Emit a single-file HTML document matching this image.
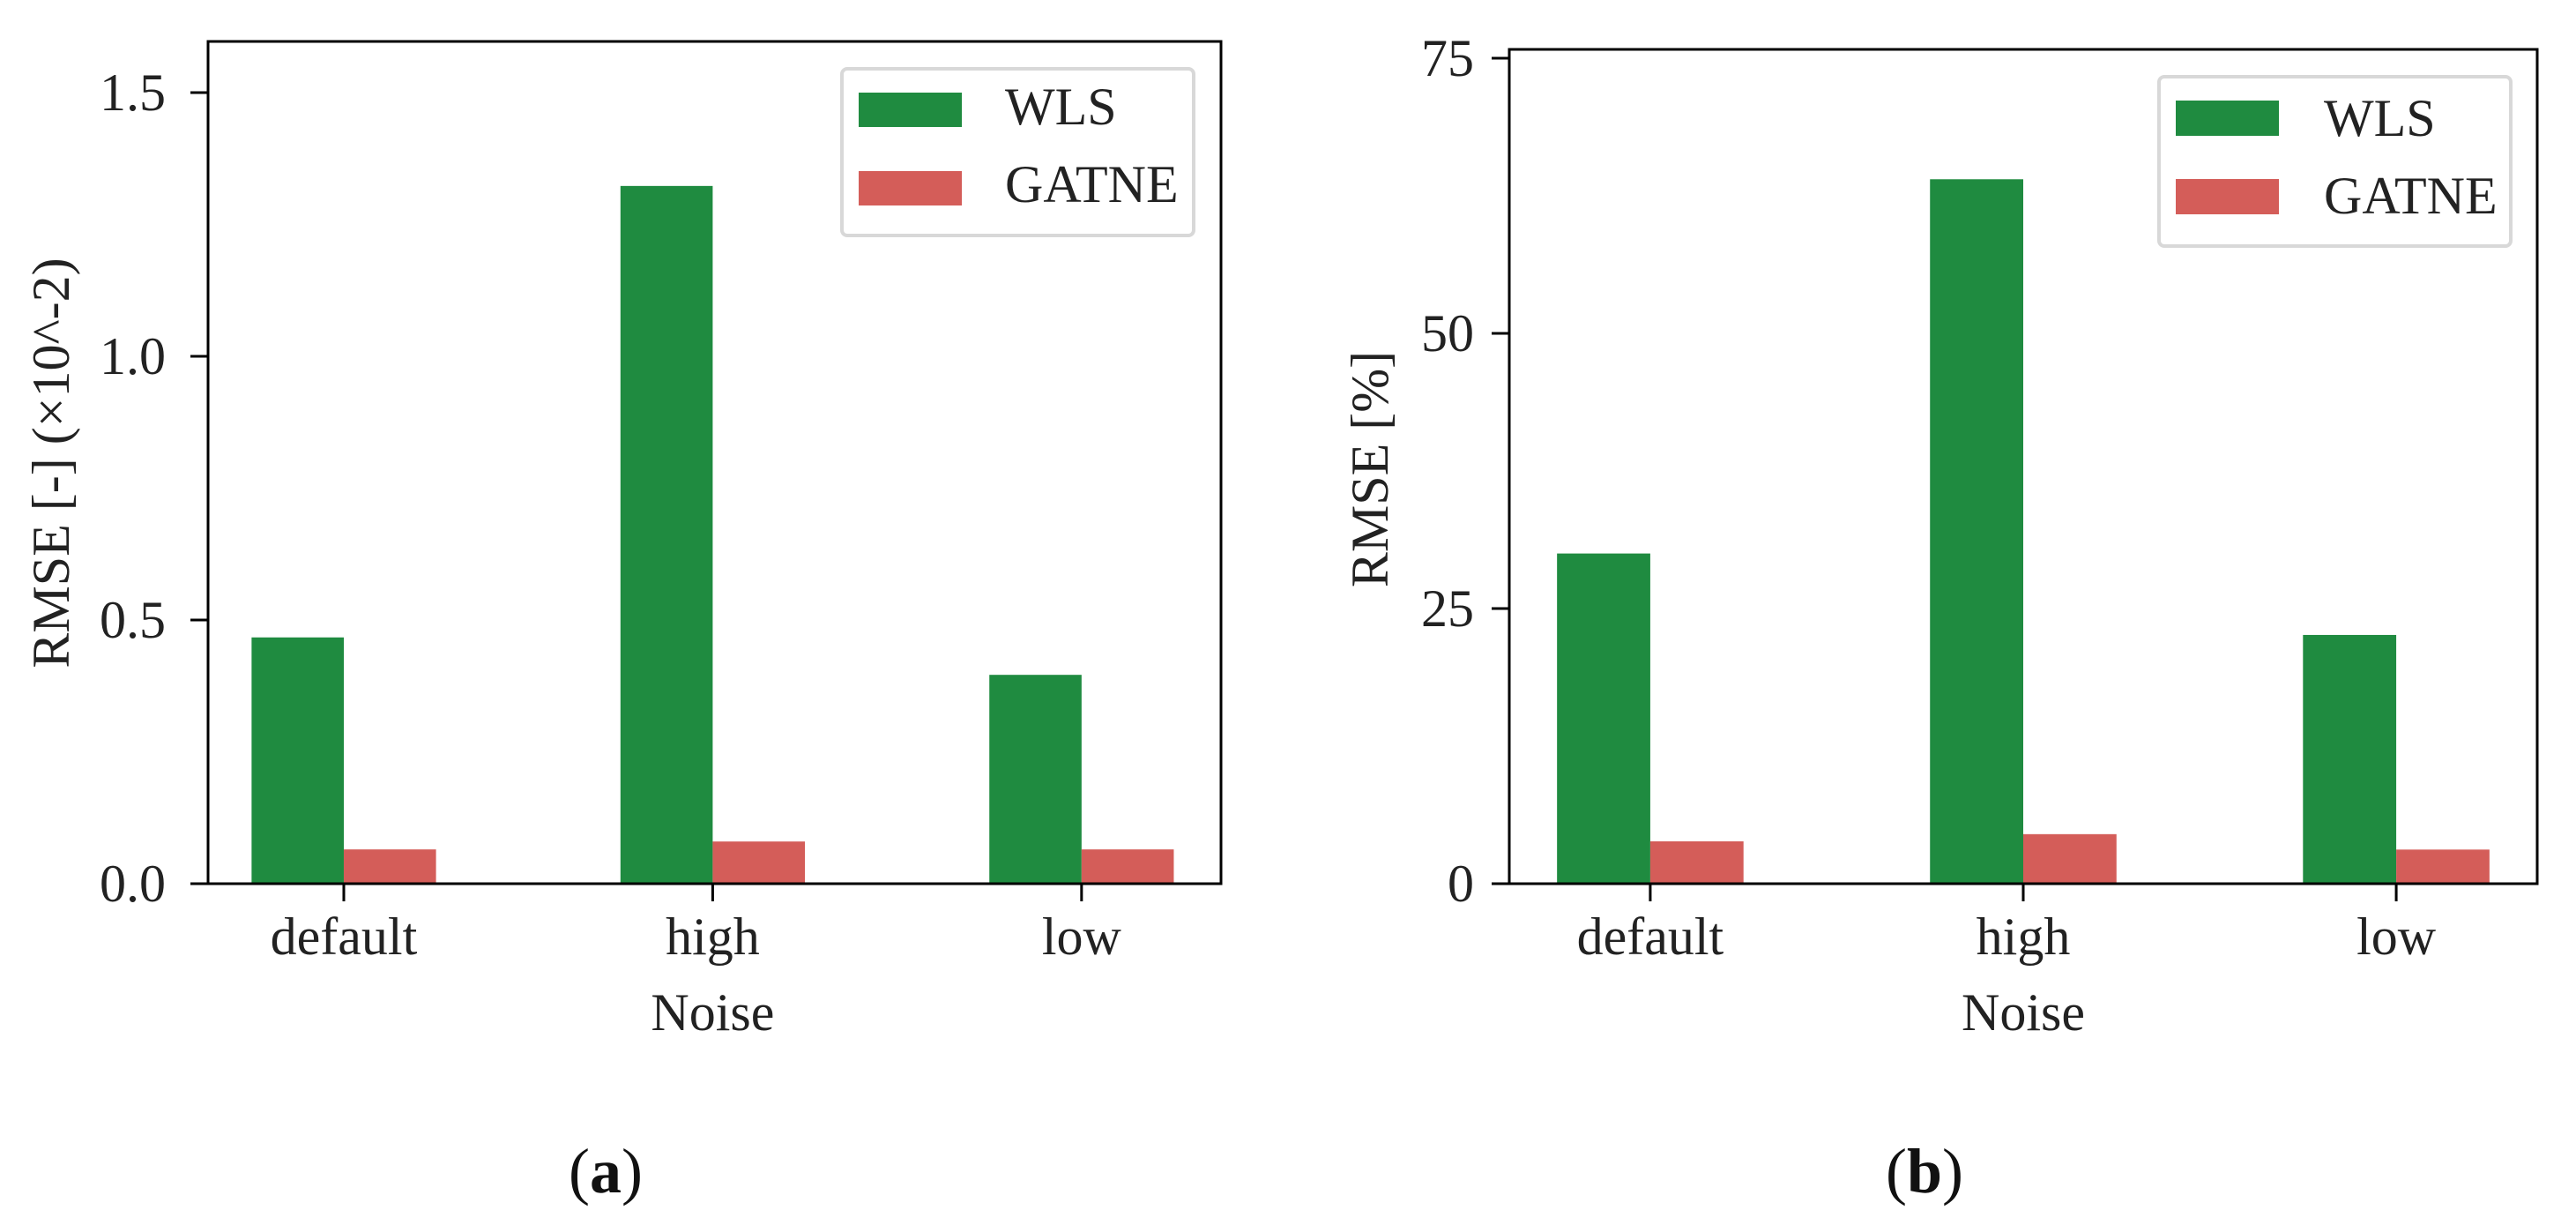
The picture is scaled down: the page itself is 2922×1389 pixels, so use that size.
<!DOCTYPE html>
<html><head><meta charset="utf-8"><style>
html,body{margin:0;padding:0;background:#fff;width:2922px;height:1389px;overflow:hidden}
svg{display:block;font-family:"Liberation Serif",serif}
</style></head><body>
<svg id="fig" width="2922" height="1389" viewBox="0 0 2922 1389" xmlns="http://www.w3.org/2000/svg"></svg>
<script>
const categories = ["default","high","low"];
const seriesNames = ["WLS","GATNE"];
const wlsA = [0.467, 1.323, 0.396];
const gatneA = [0.065, 0.08, 0.065];
const ticksA = [0.0, 0.5, 1.0, 1.5];
const tickLabelsA = ["0.0","0.5","1.0","1.5"];
const wlsB = [30.0, 64.0, 22.6];
const gatneB = [3.85, 4.5, 3.1];
const ticksB = [0, 25, 50, 75];
const tickLabelsB = ["0","25","50","75"];

const NS = "http://www.w3.org/2000/svg";
const svg = document.getElementById("fig");
const colors = ["#1f8b40", "#d45d59"];
function mk(tag, attrs, parent, text){
  const e = document.createElementNS(NS, tag);
  for (const k in attrs) e.setAttribute(k, attrs[k]);
  if (text !== undefined) e.textContent = text;
  (parent || svg).appendChild(e);
  return e;
}
function panel(cfg){
  const g = mk("g", {});
  
  
  const xs = v => cfg.x0 + (v - cfg.xmin) / (cfg.xmax - cfg.xmin) * (cfg.x1 - cfg.x0);
  const ys = v => cfg.y1 - (v - 0) / cfg.ymax * (cfg.y1 - cfg.y0);
  const bw = 0.25;
  [cfg.wls, cfg.gat].forEach((arr, s) => {
    arr.forEach((v, i) => {
      const left = s === 0 ? xs(i - bw) : xs(i);
      const r = mk("rect", {x:left, y:ys(v), width:xs(i+bw)-xs(i), height:ys(0)-ys(v), fill:colors[s]}, g);
      
      
    });
  });
  const frame = mk("rect", {x:cfg.x0, y:cfg.y0, width:cfg.x1-cfg.x0, height:cfg.y1-cfg.y0, fill:"none", stroke:"#000", "stroke-width":3}, g);
  
  
  cfg.ticks.forEach((t, i) => {
    const y = ys(t);
    mk("line", {x1:cfg.x0-20, x2:cfg.x0, y1:y, y2:y, stroke:"#000", "stroke-width":3}, g);
    const tl = mk("text", {x:cfg.tickRight, y:y+20, "text-anchor":"end", "font-size":60, fill:"#222"}, g, cfg.tickLabels[i]);
    
    
  });
  categories.forEach((c, i) => {
    const x = xs(i);
    mk("line", {x1:x, x2:x, y1:cfg.y1, y2:cfg.y1+20, stroke:"#000", "stroke-width":3}, g);
    const tl = mk("text", {x:x, y:1082, "text-anchor":"middle", "font-size":60, fill:"#222"}, g, c);
    
    
  });
  const xt = mk("text", {x:xs(1), y:1168, "text-anchor":"middle", "font-size":60, fill:"#222"}, g, "Noise");
  
  
  const yt = mk("text", {x:0, y:0, "text-anchor":"middle", "font-size":60, fill:"#222", transform:`translate(${cfg.ylabX},${cfg.ylabY}) rotate(-90)`}, g, cfg.ylabel);
  
  
  const L = cfg.leg;
  const lb = mk("rect", {x:L.x0, y:L.y0, width:L.x1-L.x0, height:L.y1-L.y0, rx:6, fill:"#fff", stroke:"#d8d8d8", "stroke-width":4}, g);
  
  
  seriesNames.forEach((n, s) => {
    const p = mk("rect", {x:L.px0, y:L.py[s], width:L.px1-L.px0, height:L.ph, fill:colors[s]}, g);
    
    
    const t = mk("text", {x:L.tx, y:L.tb[s], "font-size":60, fill:"#222"}, g, n);
    
    
  });
  const cap = mk("text", {x:cfg.capX, y:1352, "text-anchor":"middle", "font-size":72, fill:"#111"}, g);
  
  
  mk("tspan", {}, cap, "(");
  mk("tspan", {"font-weight":"bold"}, cap, cfg.cap);
  mk("tspan", {}, cap, ")");
}
panel({name:"panel-a", x0:236, x1:1385, y0:47, y1:1002, xmin:-0.368, xmax:2.378, ymax:1.597,
  wls:wlsA, gat:gatneA, ticks:ticksA, tickLabels:tickLabelsA, tickRight:188,
  ylabel:"RMSE [-] (\u00d710^-2)", ylabX:78, ylabY:525,
  leg:{x0:955,x1:1354,y0:78,y1:267,px0:974,px1:1091,py:[105,194],ph:39,tx:1140,tb:[141,229]},
  capX:687, cap:"a"});
panel({name:"panel-b", x0:1712, x1:2878, y0:56, y1:1002, xmin:-0.378, xmax:2.378, ymax:75.8,
  wls:wlsB, gat:gatneB, ticks:ticksB, tickLabels:tickLabelsB, tickRight:1672,
  ylabel:"RMSE [%]", ylabX:1574, ylabY:532,
  leg:{x0:2449,x1:2848,y0:87,y1:279,px0:2468,px1:2585,py:[114,203],ph:40,tx:2636,tb:[154,242]},
  capX:2183, cap:"b"});
</script>
</body></html>
